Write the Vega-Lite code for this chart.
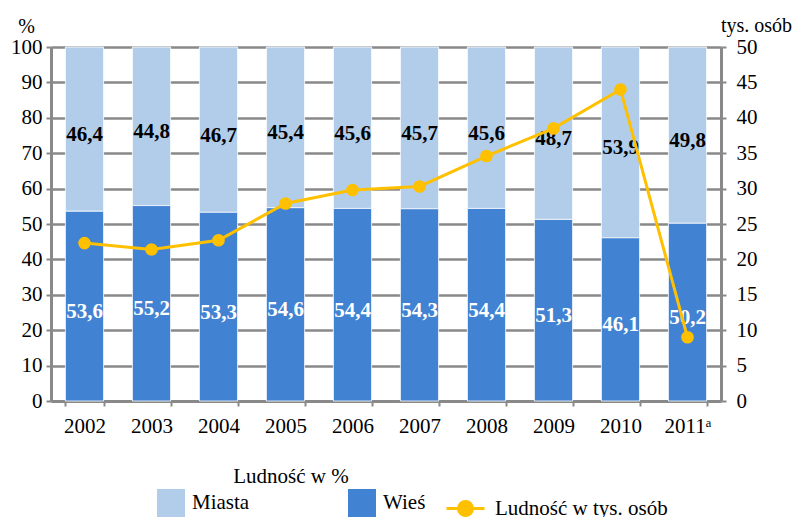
{
  "$schema": "https://vega.github.io/schema/vega-lite/v6.json",
  "width": 670,
  "height": 354,
  "autosize": {"type": "none"},
  "padding": {"left": 51, "top": 47, "right": 74, "bottom": 116},
  "background": "white",
  "datasets": {
    "udzial": [
      {"rok": "2002", "kategoria": "Miasta", "wartosc": 46.4},
      {"rok": "2002", "kategoria": "Wieś", "wartosc": 53.6},
      {"rok": "2003", "kategoria": "Miasta", "wartosc": 44.8},
      {"rok": "2003", "kategoria": "Wieś", "wartosc": 55.2},
      {"rok": "2004", "kategoria": "Miasta", "wartosc": 46.7},
      {"rok": "2004", "kategoria": "Wieś", "wartosc": 53.3},
      {"rok": "2005", "kategoria": "Miasta", "wartosc": 45.4},
      {"rok": "2005", "kategoria": "Wieś", "wartosc": 54.6},
      {"rok": "2006", "kategoria": "Miasta", "wartosc": 45.6},
      {"rok": "2006", "kategoria": "Wieś", "wartosc": 54.4},
      {"rok": "2007", "kategoria": "Miasta", "wartosc": 45.7},
      {"rok": "2007", "kategoria": "Wieś", "wartosc": 54.3},
      {"rok": "2008", "kategoria": "Miasta", "wartosc": 45.6},
      {"rok": "2008", "kategoria": "Wieś", "wartosc": 54.4},
      {"rok": "2009", "kategoria": "Miasta", "wartosc": 48.7},
      {"rok": "2009", "kategoria": "Wieś", "wartosc": 51.3},
      {"rok": "2010", "kategoria": "Miasta", "wartosc": 53.9},
      {"rok": "2010", "kategoria": "Wieś", "wartosc": 46.1},
      {"rok": "2011ᵃ", "kategoria": "Miasta", "wartosc": 49.8},
      {"rok": "2011ᵃ", "kategoria": "Wieś", "wartosc": 50.2}
    ],
    "ludnosc": [
      {"rok": "2002", "tys": 22.3},
      {"rok": "2003", "tys": 21.4},
      {"rok": "2004", "tys": 22.7},
      {"rok": "2005", "tys": 27.9},
      {"rok": "2006", "tys": 29.8},
      {"rok": "2007", "tys": 30.3},
      {"rok": "2008", "tys": 34.6},
      {"rok": "2009", "tys": 38.5},
      {"rok": "2010", "tys": 44.0},
      {"rok": "2011ᵃ", "tys": 9.0}
    ]
  },
  "config": {
    "locale": {"number": {"decimal": ",", "thousands": " ", "grouping": [3], "currency": ["", " zł"]}},
    "view": {"stroke": null},
    "font": "Liberation Serif, Times New Roman, serif"
  },
  "encoding": {
    "x": {
      "field": "rok",
      "type": "nominal",
      "sort": null,
      "scale": {"paddingInner": 0.43, "paddingOuter": 0.215},
      "axis": {
        "title": null,
        "labelAngle": 0,
        "labelFont": "Liberation Serif, Times New Roman, serif",
        "labelFontSize": 21,
        "labelColor": "black",
        "labelPadding": 9,
        "tickSize": 5,
        "tickWidth": 2,
        "tickColor": "#898989",
        "tickBand": "extent",
        "domainColor": "#898989",
        "domainWidth": 3,
        "grid": false
      }
    }
  },
  "layer": [
    {
      "data": {"name": "udzial"},
      "encoding": {
        "y": {
          "field": "wartosc",
          "type": "quantitative",
          "stack": "zero",
          "scale": {"domain": [0, 100]},
          "axis": {
            "values": [0, 10, 20, 30, 40, 50, 60, 70, 80, 90, 100],
            "title": "%",
            "titleAngle": 0,
            "titleAlign": "center",
            "titleBaseline": "middle",
            "titleX": -25,
            "titleY": -21,
            "titleFont": "Liberation Serif, Times New Roman, serif",
            "titleFontSize": 20,
            "titleFontWeight": "normal",
            "titleColor": "black",
            "labelFont": "Liberation Serif, Times New Roman, serif",
            "labelFontSize": 21,
            "labelColor": "black",
            "labelPadding": 4,
            "labelOverlap": false,
            "tickSize": 5,
            "tickWidth": 2,
            "tickColor": "#898989",
            "domainColor": "#898989",
            "domainWidth": 3,
            "grid": true,
            "gridColor": "#898989",
            "gridWidth": 2.5
          }
        },
        "order": {"field": "kategoria", "sort": "descending"}
      },
      "layer": [
        {
          "mark": {"type": "bar", "stroke": "white", "strokeWidth": 0.8},
          "encoding": {
            "color": {
              "field": "kategoria",
              "type": "nominal",
              "scale": {"domain": ["Miasta", "Wieś"], "range": ["#B2CDEA", "#4282D3"]},
              "legend": {
                "orient": "none",
                "legendX": 106,
                "legendY": 419,
                "direction": "horizontal",
                "columns": 2,
                "title": "Ludność w %",
                "titleAnchor": "middle",
                "titleFont": "Liberation Serif, Times New Roman, serif",
                "titleFontSize": 21,
                "titleFontWeight": "normal",
                "titleColor": "black",
                "titlePadding": 2,
                "labelFont": "Liberation Serif, Times New Roman, serif",
                "labelFontSize": 21,
                "labelColor": "black",
                "symbolType": "square",
                "symbolSize": 784,
                "symbolStrokeWidth": 0,
                "labelOffset": 7,
                "columnPadding": 98,
                "padding": 0
              }
            }
          }
        },
        {
          "mark": {"type": "text", "font": "Liberation Serif, Times New Roman, serif", "fontSize": 21, "fontWeight": "bold", "dy": 6},
          "encoding": {
            "y": {
              "field": "wartosc",
              "type": "quantitative",
              "stack": "zero",
              "bandPosition": 0.5
            },
            "detail": {"field": "kategoria"},
            "color": {"condition": {"test": "datum.kategoria === 'Wieś'", "value": "white"}, "value": "black"},
            "text": {"field": "wartosc", "type": "quantitative", "format": ".1f"}
          }
        }
      ]
    },
    {
      "data": {"name": "ludnosc"},
      "encoding": {
        "y": {
          "field": "tys",
          "type": "quantitative",
          "scale": {"domain": [0, 50]},
          "axis": {
            "orient": "right",
            "values": [0, 5, 10, 15, 20, 25, 30, 35, 40, 45, 50],
            "title": "tys. osób",
            "titleAngle": 0,
            "titleAlign": "center",
            "titleBaseline": "middle",
            "titleX": 35,
            "titleY": -22,
            "titleFont": "Liberation Serif, Times New Roman, serif",
            "titleFontSize": 20,
            "titleFontWeight": "normal",
            "titleColor": "black",
            "labelFont": "Liberation Serif, Times New Roman, serif",
            "labelFontSize": 21,
            "labelColor": "black",
            "labelPadding": 10,
            "labelOverlap": false,
            "tickSize": 5,
            "tickWidth": 2,
            "tickColor": "#898989",
            "domainColor": "#898989",
            "domainWidth": 3,
            "grid": false
          }
        }
      },
      "layer": [
        {
          "mark": {"type": "line", "strokeWidth": 3},
          "encoding": {
            "stroke": {
              "datum": "Ludność w tys. osób",
              "type": "nominal",
              "scale": {"range": ["#FFC000"]},
              "legend": {
                "orient": "none",
                "legendX": 394,
                "legendY": 441,
                "title": null,
                "symbolType": "M-1,0H1M-0.37,0A0.37,0.37,0,1,0,0.37,0A0.37,0.37,0,1,0,-0.37,0Z",
                "symbolSize": 1444,
                "symbolStrokeWidth": 3,
                "symbolFillColor": "#FFC000",
                "symbolStrokeColor": "#FFC000",
                "labelFont": "Liberation Serif, Times New Roman, serif",
                "labelFontSize": 21,
                "labelColor": "black",
                "labelLimit": 300,
                "labelOffset": 9,
                "padding": 0
              }
            }
          }
        },
        {
          "mark": {"type": "circle", "size": 160, "color": "#FFC000", "opacity": 1}
        }
      ]
    }
  ],
  "resolve": {"scale": {"y": "independent"}}
}
